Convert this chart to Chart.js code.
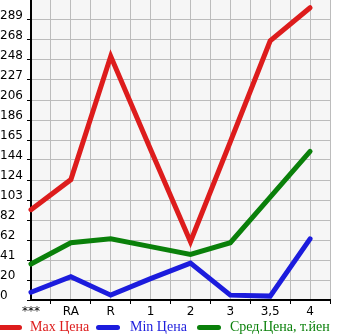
<!DOCTYPE html>
<html>
<head>
<meta charset="utf-8">
<script src="https://cdn.jsdelivr.net/npm/chart.js@4/dist/chart.umd.min.js"></script>
<style>
	html, body { margin: 0; padding: 0; background: #fff; }
	#wrap { position: relative; width: 345px; height: 335px; overflow: hidden; }
	#chart { position: absolute; left: 0; top: 0; }
	.lg { position: absolute; top: 318px; height: 18px; font: 14px "Liberation Serif", serif; line-height: 18px; white-space: nowrap; }
	.lg i { position: absolute; top: 7px; height: 5px; border-radius: 3px; }
	.lg span { position: absolute; top: 0; }
</style>
</head>
<body>
<div id="wrap">
	<canvas id="chart" width="345" height="320"></canvas>
</div>
<script>
	// Categories along X and the rounded Y tick labels, as printed on the picture.
	const categories = [ '***', 'RA', 'R', '1', '2', '3', '3,5', '4' ];
	const yLabels = [ '0', '20', '41', '62', '82', '103', '124', '144', '165', '186', '206', '227', '248', '268', '289' ];
	const yStep = 20.6;

	// Series (thousand yen) per category.
	const maxPrice = [ 93, 124, 251, 155, 60, 163, 267, 301 ];
	const minPrice = [ 8, 24, 5, 22, 38, 5, 4, 63 ];
	const avgPrice = [ 37, 59, 63, 55, 47, 59, 106, 153 ];

	const seriesNames = [ 'Max Цена', 'Min Цена', 'Сред.Цена, т.йен' ];
	const seriesColors = [ '#dd1c1c', '#1c1cdd', '#0a800a' ];

	const series = [ maxPrice, minPrice, avgPrice ].map( ( vals, i ) => ( {
		label: seriesNames[ i ],
		data: vals.map( ( v, j ) => ( { x: j, y: v } ) ),
		borderColor: seriesColors[ i ],
		backgroundColor: seriesColors[ i ],
		borderWidth: 5,
		borderCapStyle: 'round',
		borderJoinStyle: 'miter',
		pointRadius: 0,
		tension: 0,
		showLine: true,
		clip: false,
	} ) );
	// draw order: green under blue under red
	series.reverse();

	const plotBg = {
		id: 'plotBg',
		beforeDraw( chart ) {
			const { ctx, chartArea: a } = chart;
			ctx.save();
			ctx.fillStyle = '#f6f6f6';
			ctx.fillRect( a.left, a.top, a.right - a.left, a.bottom - a.top );
			ctx.restore();
		},
	};

	const noPad = ( axis ) => {
		axis.paddingTop = 0;
		axis.paddingBottom = 0;
		axis.paddingLeft = 0;
		axis.paddingRight = 0;
	};

	new Chart( document.getElementById( 'chart' ), {
		type: 'scatter',
		data: { datasets: series },
		plugins: [ plotBg ],
		options: {
			responsive: false,
			animation: false,
			layout: { padding: { top: 0, right: 15, left: 0, bottom: 0 } },
			plugins: { legend: { display: false }, tooltip: { enabled: false } },
			scales: {
				x: {
					type: 'linear',
					min: 0,
					max: categories.length - 0.5,
					afterBuildTicks: ( axis ) => {
						const t = [];
						for ( let i = 0; i < categories.length * 2; i++ ) t.push( { value: i / 2 } );
						axis.ticks = t;
					},
					afterFit: ( axis ) => { axis.height = 20; noPad( axis ); },
					grid: {
						color: '#bcbcbc',
						lineWidth: 1,
						tickLength: 4,
						tickColor: ( c ) => ( c.tick && c.tick.value % 1 ? '#000' : 'rgba(0,0,0,0)' ),
					},
					border: { color: '#000', width: 2 },
					ticks: {
						autoSkip: false,
						maxRotation: 0,
						padding: 1,
						color: '#000',
						font: { family: 'DejaVu Sans', size: 12 },
						callback: ( v ) => ( v % 1 ? '' : categories[ v ] ),
					},
				},
				y: {
					type: 'linear',
					min: 0,
					max: yStep * yLabels.length,
					afterBuildTicks: ( axis ) => {
						axis.ticks = yLabels.map( ( l, i ) => ( { value: i * yStep } ) );
					},
					afterFit: ( axis ) => { axis.width = 31; noPad( axis ); },
					grid: { color: '#bcbcbc', lineWidth: 1, tickLength: 4, tickColor: '#000' },
					border: { color: '#000', width: 2 },
					ticks: {
						autoSkip: false,
						crossAlign: 'far',
						labelOffset: -4,
						color: '#000',
						font: { family: 'DejaVu Sans', size: 12 },
						callback: ( v, i ) => yLabels[ i ],
					},
				},
			},
		},
	} );

	// Legend as real text below the canvas.
	const legendPos = [ [ -8, 30 ], [ 96, 130 ], [ 197, 230 ] ];
	const wrap = document.getElementById( 'wrap' );
	seriesNames.forEach( ( name, i ) => {
		const d = document.createElement( 'div' );
		d.className = 'lg';
		d.style.left = '0px';
		d.innerHTML = `<i style="left:${ legendPos[ i ][ 0 ] }px;width:${ i ? 24 : 30 }px;background:${ seriesColors[ i ] }"></i><span style="left:${ legendPos[ i ][ 1 ] }px;color:${ seriesColors[ i ] }">${ name }</span>`;
		wrap.appendChild( d );
	} );
</script>
</body>
</html>
